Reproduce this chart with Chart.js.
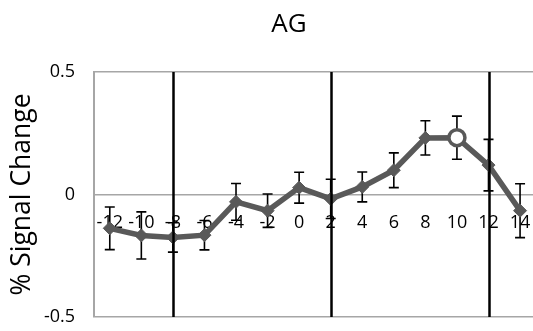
<!DOCTYPE html>
<html>
<head>
<meta charset="utf-8">
<script src="https://cdn.jsdelivr.net/npm/chart.js@4/dist/chart.umd.min.js"></script>
<style>
  html, body { margin: 0; padding: 0; background: #ffffff; }
  canvas { display: block; }
</style>
</head>
<body>
<canvas id="chart" width="533" height="331"></canvas>
<script>
// Peri-event time course for region AG
const chartTitle = 'AG';
const yAxisTitle = '% Signal Change';
const timePoints = [-12, -10, -8, -6, -4, -2, 0, 2, 4, 6, 8, 10, 12, 14];
const signalMean = [-0.138, -0.167, -0.175, -0.166, -0.030, -0.066, 0.028, -0.018, 0.031, 0.099, 0.231, 0.232, 0.120, -0.066];
const signalErr  = [0.087, 0.096, 0.060, 0.060, 0.075, 0.068, 0.063, 0.080, 0.061, 0.071, 0.070, 0.088, 0.105, 0.110];
const eventMarkers = [-8, 2, 12];
const yTickValues = [-0.5, 0, 0.5];
const openPointTime = 10;

const FONT = '"Open Sans", "DejaVu Sans", sans-serif';
const LINE_GREY = '#595959';
const FRAME_GREY = '#a6a6a6';

// Vertical error bars, drawn under the series line and markers
const errorBars = {
  id: 'errorBars',
  beforeDatasetsDraw(chart) {
    const { ctx, scales: { x, y } } = chart;
    ctx.save();
    ctx.strokeStyle = '#000000';
    ctx.lineWidth = 1.6;
    const cap = 5;
    timePoints.forEach((t, i) => {
      const px = x.getPixelForValue(t);
      const top = y.getPixelForValue(signalMean[i] + signalErr[i]);
      const bot = y.getPixelForValue(signalMean[i] - signalErr[i]);
      ctx.beginPath();
      ctx.moveTo(px, top); ctx.lineTo(px, bot);
      ctx.moveTo(px - cap, top); ctx.lineTo(px + cap, top);
      ctx.moveTo(px - cap, bot); ctx.lineTo(px + cap, bot);
      ctx.stroke();
    });
    ctx.restore();
  }
};

// Black vertical lines at the event times, drawn over the series
const eventLines = {
  id: 'eventLines',
  afterDatasetsDraw(chart) {
    const { ctx, chartArea, scales: { x } } = chart;
    ctx.save();
    ctx.strokeStyle = '#000000';
    ctx.lineWidth = 2.5;
    eventMarkers.forEach(t => {
      const px = Math.round(x.getPixelForValue(t)) + 0.5;
      ctx.beginPath();
      ctx.moveTo(px, chartArea.top);
      ctx.lineTo(px, chartArea.bottom);
      ctx.stroke();
    });
    ctx.restore();
  }
};

// Chart heading
const headingText = {
  id: 'headingText',
  afterDraw(chart) {
    const { ctx } = chart;
    ctx.save();
    ctx.fillStyle = '#000000';
    ctx.font = '26px ' + FONT;
    ctx.textAlign = 'center';
    ctx.textBaseline = 'alphabetic';
    ctx.fillText(chartTitle, 289, 32);
    ctx.restore();
  }
};

const points = timePoints.map((t, i) => ({ x: t, y: signalMean[i] }));

new Chart(document.getElementById('chart'), {
  type: 'line',
  data: {
    datasets: [{
      data: points,
      borderColor: LINE_GREY,
      borderWidth: 5.5,
      tension: 0,
      pointStyle: timePoints.map(t => t === openPointTime ? 'circle' : 'rectRot'),
      pointRadius: timePoints.map(t => t === openPointTime ? 8 : 6.5),
      pointBorderWidth: timePoints.map(t => t === openPointTime ? 3.5 : 1),
      pointBackgroundColor: timePoints.map(t => t === openPointTime ? '#ffffff' : LINE_GREY),
      pointBorderColor: LINE_GREY
    }]
  },
  options: {
    responsive: false,
    devicePixelRatio: 1,
    animation: false,
    layout: { autoPadding: false, padding: { top: 72, bottom: 14, left: 0, right: 0 } },
    plugins: {
      legend: { display: false },
      tooltip: { enabled: false },
      title: { display: false }
    },
    scales: {
      x: {
        type: 'linear',
        position: { y: 0 },
        min: -13,
        max: 14.82,
        afterBuildTicks(scale) { scale.ticks = timePoints.map(v => ({ value: v })); },
        afterFit(scale) {
          scale.height = 0;
          scale.paddingLeft = 0; scale.paddingRight = 0;
          scale.paddingTop = 0; scale.paddingBottom = 0;
        },
        grid: { display: false },
        border: { display: false },
        ticks: {
          autoSkip: false,
          maxRotation: 0,
          padding: 10,
          color: '#000000',
          font: { family: FONT, size: 18 },
          callback: v => String(v)
        }
      },
      y: {
        min: -0.5,
        max: 0.5,
        afterBuildTicks(scale) { scale.ticks = yTickValues.map(v => ({ value: v })); },
        afterFit(scale) {
          scale.width = 94;
          scale.paddingTop = 0; scale.paddingBottom = 0;
        },
        grid: { color: FRAME_GREY, lineWidth: 1.5, drawTicks: false },
        border: { display: true, color: FRAME_GREY, width: 2 },
        ticks: {
          padding: 19,
          color: '#000000',
          font: { family: FONT, size: 18 },
          callback: v => String(v)
        },
        title: {
          display: true,
          text: yAxisTitle,
          color: '#000000',
          font: { family: FONT, size: 26.5 },
          padding: { top: 7, bottom: 0 }
        }
      }
    }
  },
  plugins: [errorBars, eventLines, headingText]
});
</script>
</body>
</html>
